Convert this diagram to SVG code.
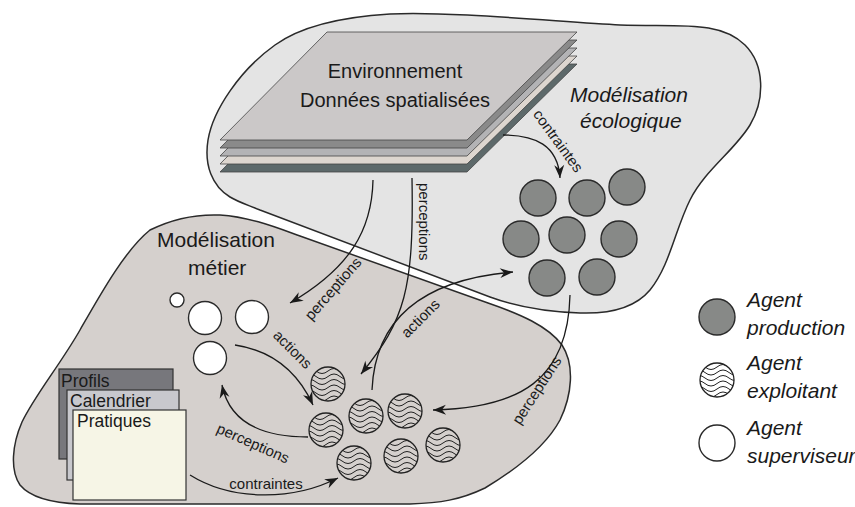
<svg xmlns="http://www.w3.org/2000/svg" xmlns:xlink="http://www.w3.org/1999/xlink" width="855" height="507" viewBox="0 0 855 507">
<style>
text{font-family:"Liberation Sans",Arial,sans-serif;fill:#1a1a1a}
.blob{stroke:#2a2a2a;stroke-width:1.5}
.prod{fill:#878987;stroke:#2a2a2a;stroke-width:1.4}
.sup{fill:#ffffff;stroke:#2a2a2a;stroke-width:1.4}
.hc{fill:none;stroke:#222;stroke-width:1.3}
.wv{fill:none;stroke:#222;stroke-width:1}
.layer{stroke:#444;stroke-width:0.8}
.arr{fill:none;stroke:#1a1a1a;stroke-width:1.3;marker-end:url(#ah)}
.lbl{font-size:15px}
.title{font-size:20px}
.big{font-size:21px}
.it{font-style:italic;font-size:21px}
.file{stroke:#333;stroke-width:1.2}
.ftxt{font-size:17.5px}
</style>
<defs>
<marker id="ah" markerUnits="userSpaceOnUse" viewBox="-14 -6 15 12" markerWidth="15" markerHeight="12" refX="0" refY="0" orient="auto" overflow="visible">
<path d="M0,0 L-13,-5 L-9,0 L-13,5 Z" fill="#1a1a1a"/>
</marker>
<clipPath id="cc"><circle r="17"/></clipPath>
<g id="ex">
<g clip-path="url(#cc)">
<path class="wv" d="M-24,-13 q6,-5 12,0 t12,0 t12,0 t12,0"/>
<path class="wv" d="M-24,-7.5 q6,-5 12,0 t12,0 t12,0 t12,0"/>
<path class="wv" d="M-24,-2 q6,-5 12,0 t12,0 t12,0 t12,0"/>
<path class="wv" d="M-24,3.5 q6,-5 12,0 t12,0 t12,0 t12,0"/>
<path class="wv" d="M-24,9 q6,-5 12,0 t12,0 t12,0 t12,0"/>
<path class="wv" d="M-24,14.5 q6,-5 12,0 t12,0 t12,0 t12,0"/>
</g>
<circle class="hc" r="17"/>
</g>
</defs>

<g id="blob-metier">
<path class="blob" fill="#d5d0cd" d="M150,230 C170,220 195,214 220,215 C250,217 275,227 300,236 L488,303 C520,314 548,326 562,345 C575,365 572,395 560,420 C545,448 515,470 485,488 C460,500 440,503 410,504 L80,504 C50,503 30,497 20,485 C10,470 12,445 22,422 C35,395 60,365 80,330 C100,295 125,250 150,230 Z"/>
<text class="big" x="157" y="247">Modélisation</text>
<text class="big" x="188" y="275">métier</text>
</g>

<g id="blob-ecologique">
<path class="blob" fill="#e4e4e4" d="M230,197 C212,186 204,165 208,140 C213,110 240,70 275,45 C300,27 340,17 390,14 C450,11 560,22 620,25 C680,27 720,20 745,45 C765,65 765,100 750,125 C735,150 705,170 690,200 C675,230 670,265 650,290 C635,308 610,314 580,313 C550,312 520,308 490,297 L260,210 C248,205 238,202 230,197 Z"/>
<text class="it" x="570" y="102">Modélisation</text>
<text class="it" x="580" y="128">écologique</text>
</g>

<g id="environnement">
<path class="layer" fill="#5d696a" d="M327,64 L577,64 L467,172 L220,172 Z"/>
<path class="layer" fill="#ddd6cf" d="M327,56 L577,56 L467,164 L220,164 Z"/>
<path class="layer" fill="#b3b3b5" d="M327,48 L577,48 L467,156 L220,156 Z"/>
<path class="layer" fill="#8a8a8a" d="M327,40 L577,40 L467,148 L220,148 Z"/>
<path class="layer" fill="#cbc8c8" d="M327,32 L577,32 L467,140 L220,140 Z"/>
<text class="title" x="395" y="78" text-anchor="middle">Environnement</text>
<text class="title" x="395" y="107" text-anchor="middle">Données spatialisées</text>
</g>

<g id="agents-production">
<circle class="prod" cx="538" cy="198" r="18"/>
<circle class="prod" cx="587" cy="198" r="18"/>
<circle class="prod" cx="627" cy="187" r="18"/>
<circle class="prod" cx="521" cy="239" r="18"/>
<circle class="prod" cx="567" cy="235" r="18"/>
<circle class="prod" cx="619" cy="239" r="18"/>
<circle class="prod" cx="547" cy="278" r="18"/>
<circle class="prod" cx="597" cy="277" r="18"/>
</g>

<g id="agents-exploitant">
<use xlink:href="#ex" x="328" y="384"/>
<use xlink:href="#ex" x="326" y="430"/>
<use xlink:href="#ex" x="366" y="416"/>
<use xlink:href="#ex" x="405" y="411"/>
<use xlink:href="#ex" x="354" y="463"/>
<use xlink:href="#ex" x="401" y="456"/>
<use xlink:href="#ex" x="443" y="445"/>
</g>

<g id="agents-superviseur">
<circle class="sup" cx="177" cy="300" r="7"/>
<circle class="sup" cx="205" cy="318" r="16.5"/>
<circle class="sup" cx="252" cy="317" r="16.5"/>
<circle class="sup" cx="210" cy="358" r="16.5"/>
</g>

<g id="fichiers">
<rect class="file" x="59" y="369" width="114" height="90" fill="#77777c"/>
<text class="ftxt" x="61" y="387">Profils</text>
<rect class="file" x="67" y="390" width="112" height="90" fill="#c8c8cd"/>
<text class="ftxt" x="70" y="407">Calendrier</text>
<rect class="file" x="73" y="410" width="113" height="90" fill="#f6f5e6"/>
<text class="ftxt" x="77" y="427">Pratiques</text>
</g>

<g id="connecteurs">
<path class="arr" d="M503,135 C535,135 558,145 560,178"/>
<text class="lbl" transform="translate(554,144) rotate(54)" text-anchor="middle">contraintes</text>

<path class="arr" d="M373,180 C372,230 350,268 290,303"/>
<text class="lbl" transform="translate(337,292) rotate(-49)" text-anchor="middle">perceptions</text>

<path class="arr" d="M412,178 C414,290 405,320 361,374"/>
<text class="lbl" transform="translate(419,183) rotate(90)">perceptions</text>

<path class="arr" d="M372,390 C375,320 420,280 513,272"/>
<text class="lbl" transform="translate(424,322) rotate(-45)" text-anchor="middle">actions</text>

<path class="arr" d="M570,295 C568,380 520,408 433,410"/>
<text class="lbl" transform="translate(541,393) rotate(-57)" text-anchor="middle">perceptions</text>

<path class="arr" d="M235,345 C268,350 296,368 313,405"/>
<text class="lbl" transform="translate(289,353) rotate(45)" text-anchor="middle">actions</text>

<path class="arr" d="M308,437 C265,437 230,425 222,385"/>
<text class="lbl" transform="translate(251,448) rotate(24)" text-anchor="middle">perceptions</text>

<path class="arr" d="M190,475 C230,500 290,502 338,478"/>
<text class="lbl" x="266" y="489" text-anchor="middle">contraintes</text>
</g>

<g id="legende">
<circle class="prod" cx="717" cy="317" r="18"/>
<text class="it" x="747" y="307">Agent</text>
<text class="it" x="747" y="335">production</text>
<use xlink:href="#ex" x="717" y="380"/>
<text class="it" x="747" y="370">Agent</text>
<text class="it" x="747" y="398">exploitant</text>
<circle class="sup" cx="717" cy="443" r="18"/>
<text class="it" x="747" y="435">Agent</text>
<text class="it" x="747" y="463">superviseur</text>
</g>
</svg>
